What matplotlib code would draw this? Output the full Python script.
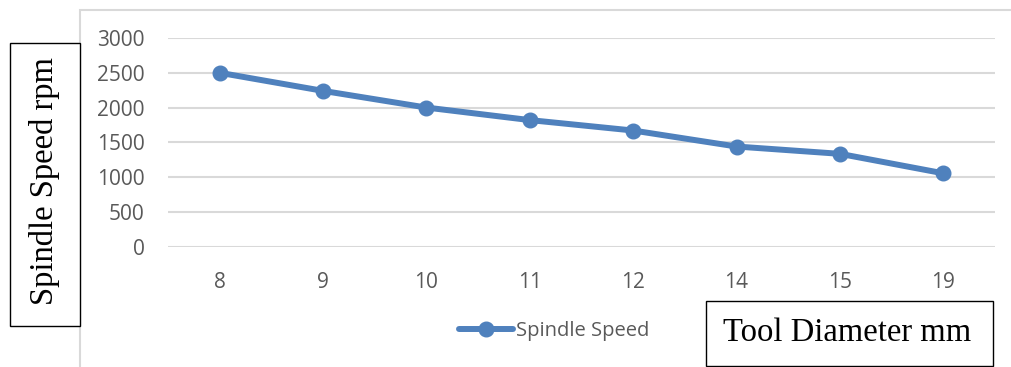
import matplotlib
matplotlib.use("Agg")
import matplotlib.pyplot as plt
from matplotlib.patches import Rectangle

categories = ["8", "9", "10", "11", "12", "14", "15", "19"]
spindle_speed = [2500, 2240, 2000, 1820, 1670, 1440, 1335, 1055]
y_ticks = [0, 500, 1000, 1500, 2000, 2500, 3000]

W, H = 1011, 367
fig = plt.figure(figsize=(W / 100, H / 100), dpi=100)

def fx(px):
    return px / W

def fy(py):
    return 1 - py / H

ax = fig.add_axes([fx(168), fy(246.7), fx(995) - fx(168), fy(38) - fy(246.7)])

line_color = "#4F81BD"
grid_color = "#D9D9D9"
text_color = "#595959"
sans = ["Open Sans", "DejaVu Sans"]
serif = ["Liberation Serif", "DejaVu Serif"]

x = list(range(len(categories)))
ax.plot(x, spindle_speed, color=line_color, lw=4.3, marker="o", markersize=10.5,
        label="Spindle Speed", solid_capstyle="round", zorder=3)

ax.set_xlim(-0.5, len(categories) - 0.5)
ax.set_ylim(0, 3000)
ax.set_yticks(y_ticks)
ax.set_yticklabels([str(v) for v in y_ticks], family=sans, fontsize=15, color=text_color)
ax.set_xticks(x)
ax.set_xticklabels(categories, family=sans, fontsize=15, color=text_color)
ax.tick_params(axis="y", length=0, pad=17)
ax.tick_params(axis="x", length=0, pad=18)
ax.grid(axis="y", color=grid_color, lw=1.5)
ax.set_axisbelow(True)
for s in ax.spines.values():
    s.set_visible(False)

# chart area border (light gray)
fig.add_artist(Rectangle((fx(80), fy(380)), fx(1100) - fx(80), fy(9.5) - fy(380),
                         transform=fig.transFigure, fill=False,
                         edgecolor=grid_color, lw=1.5, zorder=0))

# y label box
fig.add_artist(Rectangle((fx(9.5), fy(325.5)), fx(80) - fx(9.5), fy(42.5) - fy(325.5),
                         transform=fig.transFigure, fill=True, facecolor="white",
                         edgecolor="black", lw=1.0, zorder=2))
fig.text(fx(45), fy(181), "Spindle Speed rpm", rotation=90, ha="center", va="center",
         family=serif, fontsize=23.5, color="black", zorder=3)

# x label box
fig.add_artist(Rectangle((fx(706), fy(366)), fx(993) - fx(706), fy(300.5) - fy(366),
                         transform=fig.transFigure, fill=True, facecolor="white",
                         edgecolor="black", lw=1.0, zorder=2))
fig.text(fx(847), fy(333), "Tool Diameter mm", ha="center", va="center",
         family=serif, fontsize=23.5, color="black", zorder=3)

leg = ax.legend(loc="center", bbox_to_anchor=(fx(554), fy(331)),
                bbox_transform=fig.transFigure, frameon=False,
                handlelength=2.7, handletextpad=0.15, borderpad=0,
                prop={"family": sans, "size": 14.5})
for t in leg.get_texts():
    t.set_color(text_color)

fig.savefig("out.png", dpi=100)
